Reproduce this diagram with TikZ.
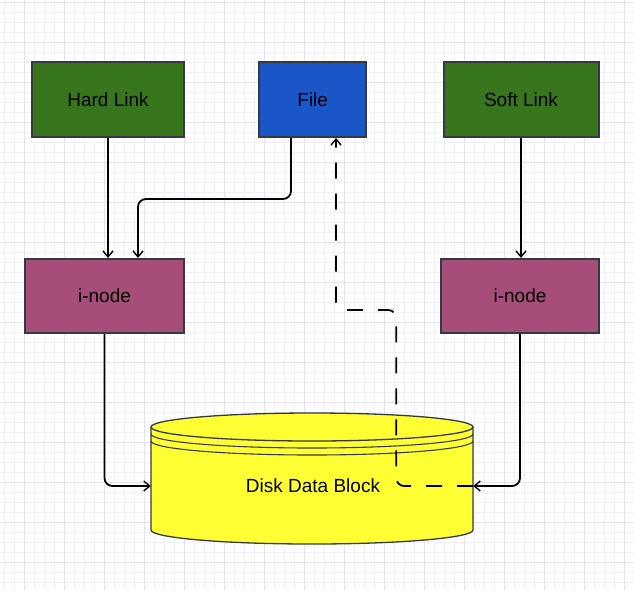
\documentclass[tikz,border=0pt]{standalone}
\usepackage{fontspec}
\setmainfont{Liberation Sans}
\usetikzlibrary{arrows.meta}
\definecolor{gminor}{HTML}{F0F0FC}
\definecolor{gmajor}{HTML}{E3E3F8}
\definecolor{lgreen}{HTML}{38761D}
\definecolor{fblue}{HTML}{1A56C8}
\definecolor{inode}{HTML}{A64D79}
\definecolor{dyellow}{HTML}{FFFF33}
\definecolor{bord}{HTML}{36393D}
\tikzset{
  box/.style={draw=bord, line width=2pt, minimum height=75pt, inner sep=0pt,
    font=\fontsize{19pt}{22pt}\selectfont, text=black},
  arr/.style={line width=1.8pt, -{Straight Barb[length=6pt,width=10pt,line width=1.4pt]}, rounded corners=8pt},
  darr/.style={arr, dash pattern=on 16pt off 15pt}
}
\begin{document}
\begin{tikzpicture}[x=1pt,y=-1pt]
\useasboundingbox (0,0) rectangle (634,590);
\fill[white] (0,0) rectangle (634,590);
% grid
\foreach \x in {4,14,...,634} \draw[gminor, line width=1pt] (\x,0) -- (\x,590);
\foreach \y in {2,12,...,590} \draw[gminor, line width=1pt] (0,\y) -- (634,\y);
\foreach \x in {24,64,...,634} \draw[gmajor, line width=1pt] (\x,0) -- (\x,590);
\foreach \y in {2,42,...,590} \draw[gmajor, line width=1pt] (0,\y) -- (634,\y);

% boxes
\node[box, fill=lgreen, minimum width=152pt] (hard) at (108,99.5) {Hard Link};
\node[box, fill=fblue, minimum width=107pt] (file) at (312.7,99.5) {File};
\node[box, fill=lgreen, minimum width=155pt] (soft) at (521,99.5) {Soft Link};
\node[box, fill=inode, minimum width=159pt, minimum height=74pt] (inL) at (104.5,296) {i-node};
\node[box, fill=inode, minimum width=158pt, minimum height=74pt] (inR) at (520,296) {i-node};

% cylinder
\fill[dyellow] (151,427) -- (151,530) arc[start angle=180, end angle=0, x radius=161, y radius=14]
  -- (473,427) arc[start angle=0, end angle=-180, x radius=161, y radius=14] -- cycle;
\draw[bord, line width=1.3pt] (151,427) -- (151,530) arc[start angle=180, end angle=0, x radius=161, y radius=14] -- (473,427);
\draw[bord, line width=1.3pt] (312,427) ellipse[x radius=161, y radius=14];
\draw[bord, line width=1.1pt] (151,434) arc[start angle=180, end angle=0, x radius=161, y radius=14];
\draw[bord, line width=1.1pt] (151,441) arc[start angle=180, end angle=0, x radius=161, y radius=14];
\node[minimum width=322pt, minimum height=131pt, inner sep=0pt] (disk) at (312,478.5) {};
\node[font=\fontsize{19pt}{22pt}\selectfont, text=black, inner sep=0pt] (disklabel) at (313,486) {Disk Data Block};

% connectors
\draw[arr] (hard.south) -- (hard.south |- inL.north);
\draw[arr] ([xshift=-21.7pt]file.south) -- ++(0,61) -| ([xshift=33.5pt]inL.north);
\draw[arr] (soft.south) -- (soft.south |- inR.north);
\draw[arr] (inL.south) |- ([yshift=-7.5pt]disk.west);
\draw[arr] (inR.south) |- ([yshift=-7.5pt]disk.east);
\draw[darr] ([yshift=-7.5pt]disk.east) -| ++(-77,-176) -| ([xshift=23.3pt]file.south);
\end{tikzpicture}
\end{document}
